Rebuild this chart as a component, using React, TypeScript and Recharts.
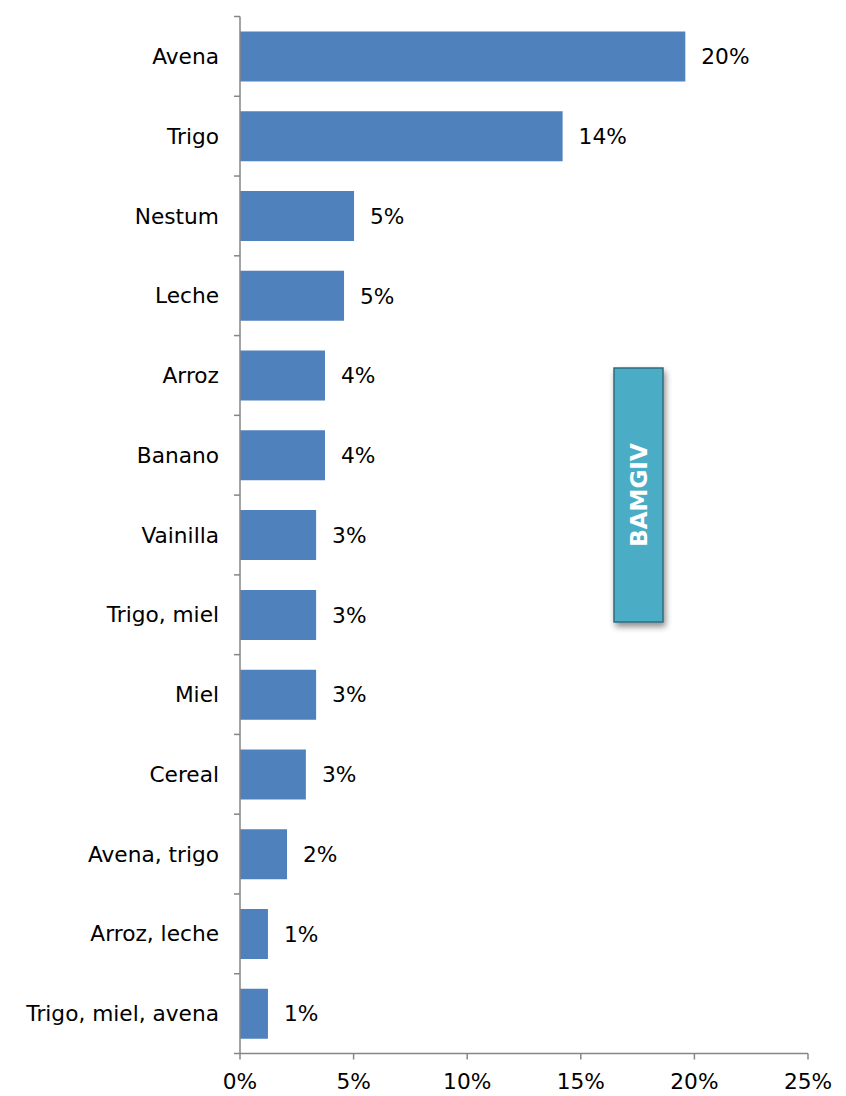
import React from "react";
import { BarChart, Bar, XAxis, YAxis, LabelList, Customized } from "recharts";

const categories = [
  "Avena",
  "Trigo",
  "Nestum",
  "Leche",
  "Arroz",
  "Banano",
  "Vainilla",
  "Trigo, miel",
  "Miel",
  "Cereal",
  "Avena, trigo",
  "Arroz, leche",
  "Trigo, miel, avena",
];
const values = [19.6, 14.2, 5.02, 4.58, 3.74, 3.74, 3.35, 3.35, 3.35, 2.9, 2.07, 1.23, 1.23];
const xTicks = [0, 5, 10, 15, 20, 25];
const annotation = "BAMGIV";

const data = categories.map((name, i) => ({ name, value: values[i] }));

const FONT = "Verdana, 'DejaVu Sans', sans-serif";
const AXIS = "#868686";

const YTick = (props: any) => {
  const { x, y, payload, index } = props;
  const half = payload && payload.offset ? payload.offset : 39.9;
  const axisX = x;
  return (
    <g>
      <line x1={axisX - 6} x2={axisX} y1={y - half} y2={y - half} stroke={AXIS} strokeWidth={1.5} />
      {index === categories.length - 1 && (
        <line x1={axisX - 6} x2={axisX} y1={y + half} y2={y + half} stroke={AXIS} strokeWidth={1.5} />
      )}
      <text x={axisX - 21} y={y} dy="0.35em" textAnchor="end" fontFamily={FONT} fontSize={21.7} fill="#000">
        {payload.value}
      </text>
    </g>
  );
};

const Annotation = () => {
  const x = 606;
  const y = 360;
  const w = 49;
  const h = 254;
  return (
    <g>
      <defs>
        <filter id="shadow" x="-50%" y="-20%" width="200%" height="140%">
          <feGaussianBlur in="SourceAlpha" stdDeviation="3" />
          <feOffset dx="2" dy="4" result="ob" />
          <feComponentTransfer>
            <feFuncA type="linear" slope="0.45" />
          </feComponentTransfer>
          <feMerge>
            <feMergeNode />
            <feMergeNode in="SourceGraphic" />
          </feMerge>
        </filter>
      </defs>
      <rect x={x} y={y} width={w} height={h} fill="#4bacc6" stroke="#2f6b80" strokeWidth={1.5} filter="url(#shadow)" />
      <text
        x={x + w / 2}
        y={y + h / 2}
        transform={`rotate(-90 ${x + w / 2} ${y + h / 2})`}
        textAnchor="middle"
        dy="0.36em"
        fontFamily={FONT}
        fontWeight="bold"
        fontSize={23}
        fill="#ffffff"
      >
        {annotation}
      </text>
    </g>
  );
};

export default function App() {
  return (
    <div style={{ width: 838, height: 1088 }}>
      <BarChart
        width={838}
        height={1088}
        data={data}
        layout="vertical"
        margin={{ top: 8.5, right: 38, bottom: 0, left: 0 }}
        barCategoryGap={0}
      >
        <XAxis
          type="number"
          domain={[0, 25]}
          ticks={xTicks}
          tickFormatter={(v: number) => `${v}%`}
          height={42.5}
          axisLine={{ stroke: AXIS, strokeWidth: 1.5 }}
          tickLine={{ stroke: AXIS, strokeWidth: 1.5 }}
          tickSize={6}
          tickMargin={14}
          tick={{ fontFamily: FONT, fontSize: 21.7, fill: "#000" }}
          interval={0}
        />
        <YAxis
          type="category"
          dataKey="name"
          width={232}
          axisLine={{ stroke: AXIS, strokeWidth: 1.5 }}
          tickLine={false}
          tickSize={0}
          tickMargin={0}
          tick={<YTick />}
          interval={0}
        />
        <Bar dataKey="value" fill="#4f81bd" barSize={50} isAnimationActive={false}>
          <LabelList
            dataKey="value"
            position="right"
            offset={16}
            formatter={(v: any) => `${Math.round(Number(v))}%`}
            style={{ fontFamily: FONT, fontSize: 21.7, fill: "#000" }}
          />
        </Bar>
        <Customized component={Annotation} />
      </BarChart>
    </div>
  );
}
